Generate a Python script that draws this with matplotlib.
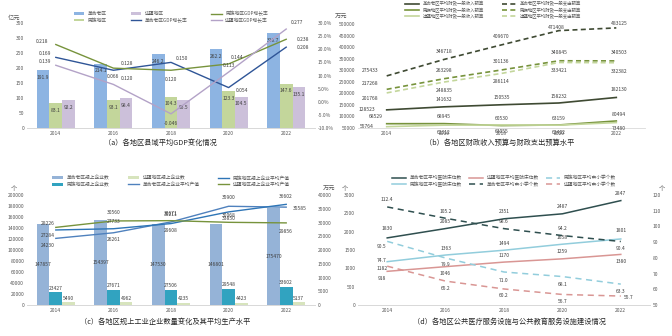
import numpy as np
import matplotlib
matplotlib.use('Agg')
import matplotlib.pyplot as plt

plt.rcParams['font.family'] = ['Noto Sans CJK SC', 'DejaVu Sans']
plt.rcParams['axes.unicode_minus'] = False

years = ['2014', '2016', '2018', '2020', '2022']
regions = ['革命老区', '民族地区', '边疆地区']

# (a) county average GDP (亿元) and growth rate
gdp_laoqu = [191.9, 214.1, 246.2, 262.2, 316.7]
gdp_minzu = [83.1, 93.1, 104.3, 123.3, 147.6]
gdp_bianjiang = [92.2, 98.4, 93.5, 104.5, 135.1]
gr_laoqu = [0.169, 0.120, 0.150, 0.054, 0.208]
gr_minzu = [0.218, 0.128, 0.120, 0.144, 0.238]
gr_bianjiang = [0.139, 0.066, -0.046, 0.113, 0.277]

# (b) fiscal revenue / expenditure budget (万元)
rev_laoqu = [128523, 141632, 150535, 158232, 182130]
rev_minzu = [68529, 68945, 60530, 63159, 80494]
rev_bianjiang = [55764, 62312, 63055, 62402, 73480]
exp_laoqu = [275433, 346718, 409670, 471408, 483125]
exp_minzu = [217268, 263298, 301136, 340845, 340503]
exp_bianjiang = [201768, 248835, 286114, 333421, 332382]

# (c) above-scale industrial firms (个) and average output (万元)
firm_laoqu = [147857, 154397, 147530, 146801, 175470]
firm_minzu = [23427, 27671, 27506, 29548, 33602]
firm_bianjiang = [5490, 4962, 4235, 4423, 5137]
out_laoqu = [24230, 26261, 30211, 35900, 35585]
out_minzu = [27284, 27733, 29608, 33850, 36602]
out_bianjiang = [28226, 30560, 30671, 30068, 29856]

# (d) hospital beds (left) and primary/secondary schools (right)
bed_laoqu = [1830, 2085, 2351, 2487, 2847]
bed_minzu = [1182, 1363, 1494, 1658, 1801]
bed_bianjiang = [918, 1046, 1170, 1259, 1380]
sch_laoqu = [112.4, 105.2, 98.6, 94.2, 90.4]
sch_minzu = [90.5, 79.9, 71.0, 68.1, 63.3]
sch_bianjiang = [74.7, 65.2, 60.2, 56.7, 55.7]

W, H = 672, 336
fig = plt.figure(figsize=(6.72, 3.36), dpi=100)
fig.patch.set_facecolor('white')

TC = '#595959'
FS = 3.6


def box(l, t, r, b):
    return [l / W, 1 - b / H, (r - l) / W, (b - t) / H]


def clean(ax, right=False):
    for s in ['top', 'right', 'left']:
        ax.spines[s].set_visible(False)
    ax.spines['bottom'].set_color('#d9d9d9')
    ax.spines['bottom'].set_linewidth(0.6)
    ax.tick_params(length=0, labelsize=FS, colors=TC, pad=2)


def lab(ax, x, y, txt, dx=0, dy=3, ha='center'):
    ax.annotate(txt, (x, y), xytext=(dx, dy), textcoords='offset points',
                ha=ha, va='center', fontsize=FS, color='#404040')


x = np.arange(5)

# ---------------- (a)
ax = fig.add_axes(box(27, 23, 315, 128))
clean(ax)
bw = 0.22
cols_a = ['#8db4e2', '#c3d69b', '#ccc0da']
for i, (vals, c) in enumerate(zip([gdp_laoqu, gdp_minzu, gdp_bianjiang], cols_a)):
    b = ax.bar(x + (i - 1) * bw, vals, bw, color=c, label=regions[i])
    ax.bar_label(b, labels=['%.1f' % v for v in vals], label_type='edge',
                 padding=-7, fontsize=FS, color='#404040')
ax.set_ylim(0, 350)
ax.set_yticks(range(0, 351, 50))
ax.set_xlim(-0.5, 4.5)
ax.set_xticks(x)
ax.set_xticklabels(years)
ax.text(-0.045, 1.03, '亿元', transform=ax.transAxes, fontsize=4.5, color=TC, ha='center')
ax2 = ax.twinx()
clean(ax2)
cols_al = ['#2f5597', '#77933c', '#b3a2c7']
offs_a = [[(-8, 3), (10, -6), (8, 3), (10, -2), (12, 0)],
          [(-10, 2), (10, 3), (0, -7), (6, 5), (12, 0)],
          [(-8, 3), (0, 6), (0, -7), (0, 5), (8, 5)]]
for k, (vals, c) in enumerate(zip([gr_laoqu, gr_minzu, gr_bianjiang], cols_al)):
    ax2.plot(x, vals, color=c, lw=1.0, label=regions[k] + 'GDP增长率')
    for j, v in enumerate(vals):
        lab(ax2, j, v, '%.3f' % v, *offs_a[k][j])
ax2.set_ylim(-0.10, 0.30)
ax2.set_yticks(np.arange(-0.10, 0.301, 0.05))
ax2.set_yticklabels(['%.1f%%' % (t * 100) for t in np.arange(-0.10, 0.301, 0.05)])
h1, l1 = ax.get_legend_handles_labels()
h2, l2 = ax2.get_legend_handles_labels()
ax.legend(h1 + h2, l1 + l2, ncol=3, loc='lower center', bbox_to_anchor=(0.5, 0.98),
          frameon=False, fontsize=3.4, labelcolor=TC, handlelength=2.2,
          handleheight=0.5, columnspacing=5, borderpad=0, labelspacing=0.3)
fig.text(160 / W, 1 - 143 / H, '（a）各地区县域平均GDP变化情况', ha='center', va='center',
         fontsize=5.2, color='#262626')

# ---------------- (b)
ax = fig.add_axes(box(358, 24, 645, 128))
clean(ax)
cols_b = ['#3f4a33', '#77933c', '#c3d69b']
offs_rev = [[(-14, 0), (0, 5), (0, 5), (0, 5), (2, 6)],
            [(-8, 5), (0, 5), (0, 5), (0, 5), (2, 5)],
            [(-14, 0), (0, -5), (0, -5), (0, -5), (2, -4)]]
offs_exp = [[(-12, 4), (0, 6), (0, 6), (-2, 2.5), (2, 3)],
            [(-12, 4), (0, 6), (0, 6), (0, 6), (2, 6)],
            [(-12, -4), (0, -6), (0, -6), (0, -6), (2, -6)]]
for k, (vals, c) in enumerate(zip([rev_laoqu, rev_minzu, rev_bianjiang], cols_b)):
    ax.plot(x, vals, color=c, lw=1.2, label=regions[k] + '平均财政一般收入预算')
    for j, v in enumerate(vals):
        lab(ax, j, v, str(v), *offs_rev[k][j])
for k, (vals, c) in enumerate(zip([exp_laoqu, exp_minzu, exp_bianjiang], cols_b)):
    ax.plot(x, vals, color=c, lw=1.2, ls=(0, (3, 2)), label=regions[k] + '平均财政一般支出预算')
    for j, v in enumerate(vals):
        lab(ax, j, v, str(v), *offs_exp[k][j])
ax.set_ylim(50000, 500000)
ax.set_yticks(range(50000, 500001, 50000))
ax.set_xlim(-0.5, 4.5)
ax.set_xticks(x)
ax.set_xticklabels(years)
ax.text(-0.06, 1.05, '万元', transform=ax.transAxes, fontsize=4.5, color=TC, ha='center')
ax.legend(ncol=2, loc='lower center', bbox_to_anchor=(0.47, 1.03), frameon=False,
          fontsize=3.2, labelcolor=TC, handlelength=3.2, columnspacing=4,
          borderpad=0, labelspacing=0.2)
fig.text(500 / W, 1 - 143 / H, '（b）各地区财政收入预算与财政支出预算水平', ha='center',
         va='center', fontsize=5.2, color='#262626')

# ---------------- (c)
ax = fig.add_axes(box(27, 195, 315, 305))
clean(ax)
cols_c = ['#95b3d7', '#31a3c0', '#d7e4bd']
names_c = [r + '规上企业数' for r in regions]
modes = [('center', 0), ('edge', 1), ('edge', 1)]
for i, (vals, c) in enumerate(zip([firm_laoqu, firm_minzu, firm_bianjiang], cols_c)):
    b = ax.bar(x + (i - 1) * bw, vals, bw, color=c, label=names_c[i])
    ax.bar_label(b, labels=[str(v) for v in vals], label_type=modes[i][0],
                 padding=modes[i][1], fontsize=FS, color='#404040')
ax.set_ylim(0, 200000)
ax.set_yticks(range(0, 200001, 20000))
ax.set_xlim(-0.5, 4.5)
ax.set_xticks(x)
ax.set_xticklabels(years)
ax.text(-0.045, 1.04, '个', transform=ax.transAxes, fontsize=4.5, color=TC, ha='center')
ax2 = ax.twinx()
clean(ax2)
cols_cl = ['#4f81bd', '#2e75b6', '#77933c']
offs_c = [[(-6, -5), (0, -5), (0, 5), (0, 6), (10, -1)],
          [(-6, -4), (0, 5), (0, -5), (0, -5), (0, 6)],
          [(-6, 3), (0, 6), (0, 5), (0, 5), (0, -6)]]
for k, (vals, c) in enumerate(zip([out_laoqu, out_minzu, out_bianjiang], cols_cl)):
    ax2.plot(x, vals, color=c, lw=1.0, label=regions[k] + '规上企业平均产值')
    for j, v in enumerate(vals):
        lab(ax2, j, v, str(v), *offs_c[k][j])
ax2.set_ylim(0, 40000)
ax2.set_yticks(range(0, 40001, 5000))
ax2.text(1.05, 1.04, '万元', transform=ax2.transAxes, fontsize=4.5, color=TC, ha='center')
h1, l1 = ax.get_legend_handles_labels()
h2, l2 = ax2.get_legend_handles_labels()
ax.legend(h1 + h2, l1 + l2, ncol=3, loc='lower center', bbox_to_anchor=(0.5, 1.05),
          frameon=False, fontsize=3.4, labelcolor=TC, handlelength=2.2,
          handleheight=0.5, columnspacing=4, borderpad=0, labelspacing=0.3)
fig.text(165 / W, 1 - 322 / H, '（c）各地区规上工业企业数量变化及其平均生产水平', ha='center',
         va='center', fontsize=5.2, color='#262626')

# ---------------- (d)
ax = fig.add_axes(box(358, 195, 650, 305))
clean(ax)
cols_d = ['#2f4f4f', '#92cddc', '#d99694']
offs_bed = [[(0, 7), (0, 5), (0, 5), (0, 5), (0, 5)],
            [(-4, -5), (0, 5), (0, 5), (0, 5), (0, 6)],
            [(-4, -5), (0, -5), (0, 5), (0, 5), (0, -5)]]
for k, (vals, c) in enumerate(zip([bed_laoqu, bed_minzu, bed_bianjiang], cols_d)):
    ax.plot(x, vals, color=c, lw=1.1, label=regions[k] + '平均医院床位数')
    for j, v in enumerate(vals):
        lab(ax, j, v, str(v), *offs_bed[k][j])
ax.set_ylim(0, 3000)
ax.set_yticks(range(0, 3001, 500))
ax.set_xlim(-0.5, 4.5)
ax.set_xticks(x)
ax.set_xticklabels(years)
ax.text(-0.045, 1.04, '个', transform=ax.transAxes, fontsize=4.5, color=TC, ha='center')
ax2 = ax.twinx()
clean(ax2)
offs_sch = [[(0, 5), (0, 5), (0, 5), (0, 5), (0, -5)],
            [(-4, -4), (0, -5), (0, -6), (0, -6), (0, -5)],
            [(-4, 4), (0, -5), (0, -5), (0, -5), (6, -1)]]
for k, (vals, c) in enumerate(zip([sch_laoqu, sch_minzu, sch_bianjiang], cols_d)):
    ax2.plot(x, vals, color=c, lw=1.1, ls=(0, (4, 3)), label=regions[k] + '平均中小学个数')
    for j, v in enumerate(vals):
        lab(ax2, j, v, '%.1f' % v, *offs_sch[k][j])
ax2.set_ylim(50, 120)
ax2.set_yticks(range(50, 121, 10))
ax2.text(1.04, 1.04, '个', transform=ax2.transAxes, fontsize=4.5, color=TC, ha='center')
h1, l1 = ax.get_legend_handles_labels()
h2, l2 = ax2.get_legend_handles_labels()
ax.legend(h1 + h2, l1 + l2, ncol=3, loc='lower center', bbox_to_anchor=(0.5, 1.05),
          frameon=False, fontsize=3.4, labelcolor=TC, handlelength=3.0,
          columnspacing=1.5, borderpad=0, labelspacing=0.3)
fig.text(510 / W, 1 - 322 / H, '（d）各地区公共医疗服务设施与公共教育服务设施建设情况',
         ha='center', va='center', fontsize=5.2, color='#262626')

fig.savefig('out.png', dpi=100, facecolor='white')
